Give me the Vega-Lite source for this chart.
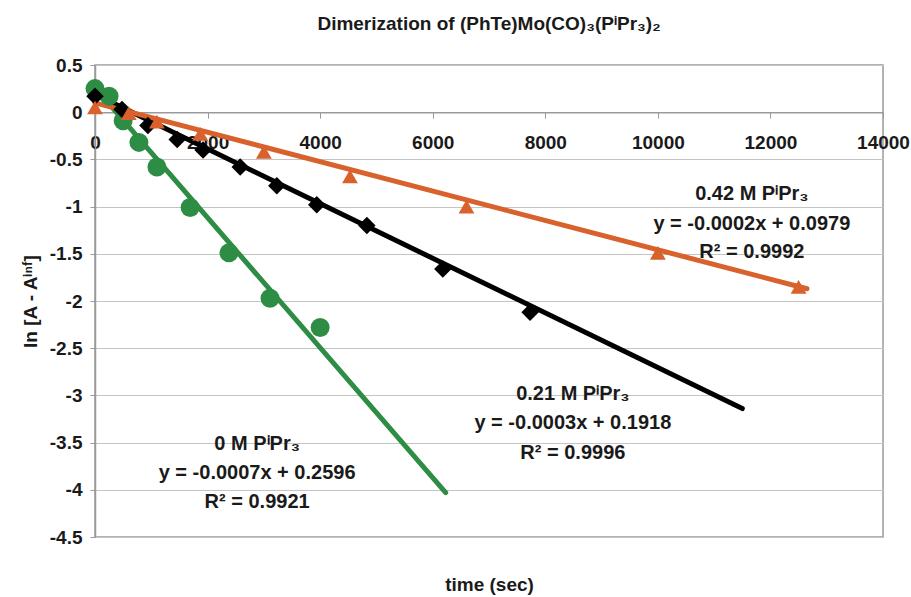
{
  "$schema": "https://vega.github.io/schema/vega-lite/v6.json",
  "width": 788,
  "height": 472,
  "autosize": {"type": "none"},
  "padding": {"left": 95, "top": 65, "right": 28, "bottom": 60},
  "background": "white",
  "view": {"stroke": "#9a9a9a", "strokeWidth": 1.5},
  "title": {
    "text": "Dimerization of (PhTe)Mo(CO)₃(PⁱPr₃)₂",
    "font": "Liberation Sans",
    "fontSize": 19,
    "fontWeight": "bold",
    "color": "#1a1a1a",
    "offset": 22,
    "anchor": "middle",
    "frame": "group"
  },
  "config": {
    "axis": {
      "labelFont": "Liberation Sans",
      "labelFontWeight": "bold",
      "labelFontSize": 19,
      "labelColor": "#1a1a1a",
      "titleFont": "Liberation Sans",
      "titleFontWeight": "bold",
      "titleFontSize": 19,
      "titleColor": "#1a1a1a",
      "domainColor": "#9a9a9a",
      "tickColor": "#9a9a9a",
      "domainWidth": 1.5
    }
  },
  "datasets": {
    "fits": [
      {"series": "0 M", "t": 0, "v": 0.26},
      {"series": "0 M", "t": 6230, "v": -4.03},
      {"series": "0.21 M", "t": 0, "v": 0.19},
      {"series": "0.21 M", "t": 11500, "v": -3.14},
      {"series": "0.42 M", "t": 0, "v": 0.098},
      {"series": "0.42 M", "t": 12650, "v": -1.87}
    ],
    "points": [
      {"series": "0 M", "t": 0, "v": 0.25},
      {"series": "0 M", "t": 250, "v": 0.17},
      {"series": "0 M", "t": 500, "v": -0.09},
      {"series": "0 M", "t": 780, "v": -0.32},
      {"series": "0 M", "t": 1100, "v": -0.58},
      {"series": "0 M", "t": 1690, "v": -1.01},
      {"series": "0 M", "t": 2380, "v": -1.49},
      {"series": "0 M", "t": 3110, "v": -1.97},
      {"series": "0 M", "t": 4000, "v": -2.28},
      {"series": "0.21 M", "t": 0, "v": 0.17},
      {"series": "0.21 M", "t": 480, "v": 0.03},
      {"series": "0.21 M", "t": 940, "v": -0.14},
      {"series": "0.21 M", "t": 1460, "v": -0.29},
      {"series": "0.21 M", "t": 1920, "v": -0.40},
      {"series": "0.21 M", "t": 2580, "v": -0.58},
      {"series": "0.21 M", "t": 3230, "v": -0.78},
      {"series": "0.21 M", "t": 3940, "v": -0.98},
      {"series": "0.21 M", "t": 4830, "v": -1.20},
      {"series": "0.21 M", "t": 6180, "v": -1.66},
      {"series": "0.21 M", "t": 7730, "v": -2.12},
      {"series": "0.42 M", "t": 0, "v": 0.05},
      {"series": "0.42 M", "t": 600, "v": -0.01},
      {"series": "0.42 M", "t": 1100, "v": -0.10},
      {"series": "0.42 M", "t": 1870, "v": -0.23},
      {"series": "0.42 M", "t": 3000, "v": -0.42},
      {"series": "0.42 M", "t": 4530, "v": -0.68},
      {"series": "0.42 M", "t": 6600, "v": -1.0},
      {"series": "0.42 M", "t": 10000, "v": -1.49},
      {"series": "0.42 M", "t": 12500, "v": -1.85}
    ],
    "labels": [
      {"t": 11670, "v": -0.87, "text": "0.42 M PⁱPr₃"},
      {"t": 11670, "v": -1.18, "text": "y = -0.0002x + 0.0979"},
      {"t": 11670, "v": -1.48, "text": "R² = 0.9992"},
      {"t": 8490, "v": -2.99, "text": "0.21 M PⁱPr₃"},
      {"t": 8490, "v": -3.29, "text": "y = -0.0003x + 0.1918"},
      {"t": 8490, "v": -3.61, "text": "R² = 0.9996"},
      {"t": 2880, "v": -3.52, "text": "0 M PⁱPr₃"},
      {"t": 2880, "v": -3.82, "text": "y = -0.0007x + 0.2596"},
      {"t": 2880, "v": -4.13, "text": "R² = 0.9921"}
    ]
  },
  "layer": [
    {
      "data": {"name": "fits"},
      "mark": {"type": "line", "strokeWidth": 5, "strokeCap": "round"},
      "encoding": {
        "x": {
          "field": "t", "type": "quantitative",
          "scale": {"domain": [0, 14000], "nice": false, "zero": false},
          "axis": {
            "orient": "bottom",
            "offset": -424.8,
            "values": [0, 2000, 4000, 6000, 8000, 10000, 12000, 14000],
            "labelExpr": "toString(datum.value)",
            "title": null,
            "grid": false,
            "tickSize": 6,
            "labelPadding": 15,
            "labelFlush": false,
            "labelOverlap": false
          }
        },
        "y": {
          "field": "v", "type": "quantitative",
          "scale": {"domain": [-4.5, 0.5], "nice": false, "zero": false},
          "axis": {
            "values": [-4.5, -4, -3.5, -3, -2.5, -2, -1.5, -1, -0.5, 0, 0.5],
            "labelExpr": "toString(datum.value)",
            "title": "ln [A - Aⁱⁿᶠ]",
            "titleAngle": -90,
            "titleX": -65,
            "titleY": 236,
            "titleAlign": "center",
            "titleBaseline": "middle",
            "grid": true,
            "gridColor": "#c4c4c4",
            "gridWidth": 1.2,
            "tickSize": 5,
            "labelPadding": 8,
            "labelFlush": false,
            "labelOverlap": false
          }
        },
        "color": {
          "field": "series", "type": "nominal",
          "scale": {"domain": ["0 M", "0.21 M", "0.42 M"], "range": ["#2e8d44", "#000000", "#d9612c"]},
          "legend": null
        },
        "detail": {"field": "series"}
      }
    },
    {
      "data": {"name": "points"},
      "mark": {"type": "point", "filled": true, "opacity": 1},
      "encoding": {
        "x": {
          "field": "t", "type": "quantitative",
          "axis": {
            "orient": "bottom",
            "title": "time (sec)",
            "labels": false,
            "ticks": false,
            "domain": false,
            "grid": false,
            "titlePadding": 38
          }
        },
        "y": {"field": "v", "type": "quantitative"},
        "color": {"field": "series", "type": "nominal", "legend": null},
        "shape": {
          "field": "series", "type": "nominal",
          "scale": {"domain": ["0 M", "0.21 M", "0.42 M"], "range": ["circle", "diamond", "triangle-up"]},
          "legend": null
        },
        "size": {
          "field": "series", "type": "ordinal",
          "scale": {"domain": ["0 M", "0.21 M", "0.42 M"], "range": [360, 250, 440]},
          "legend": null
        }
      }
    },
    {
      "data": {"name": "labels"},
      "mark": {"type": "text", "font": "Liberation Sans", "fontWeight": "bold", "fontSize": 20, "align": "center", "baseline": "middle", "color": "#1a1a1a"},
      "encoding": {
        "x": {"field": "t", "type": "quantitative", "axis": null},
        "y": {"field": "v", "type": "quantitative"},
        "text": {"field": "text"}
      }
    }
  ],
  "resolve": {"axis": {"x": "independent"}}
}
